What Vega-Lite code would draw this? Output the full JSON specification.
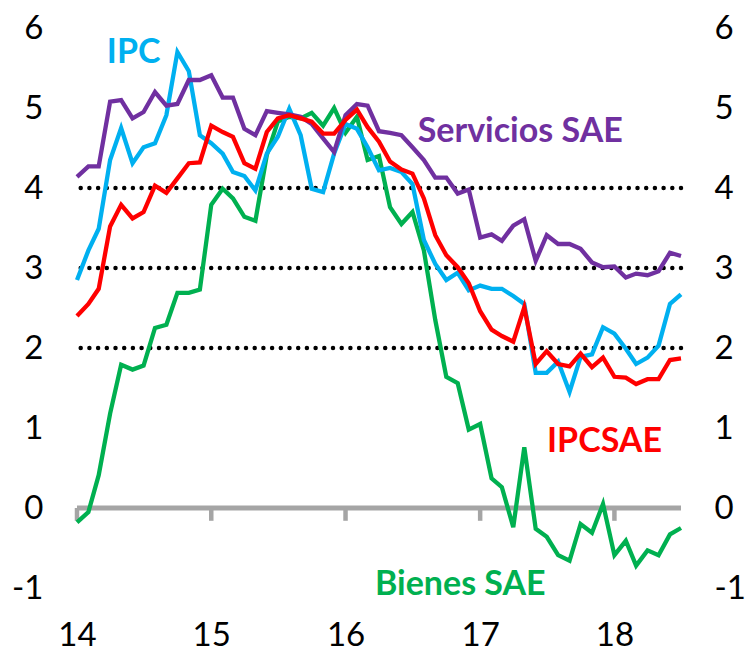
{
  "$schema": "https://vega.github.io/schema/vega-lite/v6.json",
  "width": 604,
  "height": 560,
  "autosize": "none",
  "padding": {"left": 77, "top": 28, "right": 64, "bottom": 65},
  "config": {
    "view": {"stroke": null},
    "font": "Lato",
    "axis": {"grid": false, "domain": false, "ticks": false, "title": null, "labelFont": "Lato", "labelFontSize": 33, "labelColor": "#000000"}
  },
  "datasets": {
    "series": [
      {"d": "2014-01-01", "IPC": 2.85, "IPCSAE": 2.40, "Serv": 4.14, "Bienes": -0.18},
      {"d": "2014-02-01", "IPC": 3.22, "IPCSAE": 2.55, "Serv": 4.27, "Bienes": -0.05},
      {"d": "2014-03-01", "IPC": 3.49, "IPCSAE": 2.74, "Serv": 4.27, "Bienes": 0.41},
      {"d": "2014-04-01", "IPC": 4.35, "IPCSAE": 3.52, "Serv": 5.08, "Bienes": 1.18},
      {"d": "2014-05-01", "IPC": 4.75, "IPCSAE": 3.79, "Serv": 5.10, "Bienes": 1.79},
      {"d": "2014-06-01", "IPC": 4.31, "IPCSAE": 3.62, "Serv": 4.87, "Bienes": 1.73},
      {"d": "2014-07-01", "IPC": 4.51, "IPCSAE": 3.70, "Serv": 4.95, "Bienes": 1.78},
      {"d": "2014-08-01", "IPC": 4.56, "IPCSAE": 4.03, "Serv": 5.20, "Bienes": 2.25},
      {"d": "2014-09-01", "IPC": 4.91, "IPCSAE": 3.94, "Serv": 5.03, "Bienes": 2.29},
      {"d": "2014-10-01", "IPC": 5.70, "IPCSAE": 4.12, "Serv": 5.05, "Bienes": 2.69},
      {"d": "2014-11-01", "IPC": 5.46, "IPCSAE": 4.31, "Serv": 5.35, "Bienes": 2.69},
      {"d": "2014-12-01", "IPC": 4.66, "IPCSAE": 4.32, "Serv": 5.35, "Bienes": 2.73},
      {"d": "2015-01-01", "IPC": 4.56, "IPCSAE": 4.78, "Serv": 5.41, "Bienes": 3.79},
      {"d": "2015-02-01", "IPC": 4.43, "IPCSAE": 4.70, "Serv": 5.13, "Bienes": 3.99},
      {"d": "2015-03-01", "IPC": 4.20, "IPCSAE": 4.64, "Serv": 5.13, "Bienes": 3.87},
      {"d": "2015-04-01", "IPC": 4.15, "IPCSAE": 4.31, "Serv": 4.74, "Bienes": 3.64},
      {"d": "2015-05-01", "IPC": 3.97, "IPCSAE": 4.24, "Serv": 4.66, "Bienes": 3.59},
      {"d": "2015-06-01", "IPC": 4.43, "IPCSAE": 4.70, "Serv": 4.96, "Bienes": 4.41},
      {"d": "2015-07-01", "IPC": 4.64, "IPCSAE": 4.87, "Serv": 4.94, "Bienes": 4.83},
      {"d": "2015-08-01", "IPC": 4.99, "IPCSAE": 4.91, "Serv": 4.92, "Bienes": 4.89},
      {"d": "2015-09-01", "IPC": 4.66, "IPCSAE": 4.87, "Serv": 4.89, "Bienes": 4.87},
      {"d": "2015-10-01", "IPC": 3.99, "IPCSAE": 4.83, "Serv": 4.80, "Bienes": 4.94},
      {"d": "2015-11-01", "IPC": 3.95, "IPCSAE": 4.68, "Serv": 4.62, "Bienes": 4.78},
      {"d": "2015-12-01", "IPC": 4.43, "IPCSAE": 4.68, "Serv": 4.45, "Bienes": 5.00},
      {"d": "2016-01-01", "IPC": 4.80, "IPCSAE": 4.85, "Serv": 4.91, "Bienes": 4.69},
      {"d": "2016-02-01", "IPC": 4.74, "IPCSAE": 4.98, "Serv": 5.05, "Bienes": 4.89},
      {"d": "2016-03-01", "IPC": 4.51, "IPCSAE": 4.76, "Serv": 5.03, "Bienes": 4.35},
      {"d": "2016-04-01", "IPC": 4.22, "IPCSAE": 4.58, "Serv": 4.71, "Bienes": 4.40},
      {"d": "2016-05-01", "IPC": 4.25, "IPCSAE": 4.33, "Serv": 4.69, "Bienes": 3.76},
      {"d": "2016-06-01", "IPC": 4.20, "IPCSAE": 4.23, "Serv": 4.66, "Bienes": 3.55},
      {"d": "2016-07-01", "IPC": 4.05, "IPCSAE": 4.18, "Serv": 4.51, "Bienes": 3.70},
      {"d": "2016-08-01", "IPC": 3.35, "IPCSAE": 3.87, "Serv": 4.35, "Bienes": 3.22},
      {"d": "2016-09-01", "IPC": 3.05, "IPCSAE": 3.41, "Serv": 4.13, "Bienes": 2.35},
      {"d": "2016-10-01", "IPC": 2.85, "IPCSAE": 3.16, "Serv": 4.13, "Bienes": 1.64},
      {"d": "2016-11-01", "IPC": 2.94, "IPCSAE": 3.01, "Serv": 3.93, "Bienes": 1.56},
      {"d": "2016-12-01", "IPC": 2.72, "IPCSAE": 2.81, "Serv": 3.98, "Bienes": 0.98},
      {"d": "2017-01-01", "IPC": 2.78, "IPCSAE": 2.46, "Serv": 3.38, "Bienes": 1.05},
      {"d": "2017-02-01", "IPC": 2.74, "IPCSAE": 2.23, "Serv": 3.42, "Bienes": 0.37},
      {"d": "2017-03-01", "IPC": 2.74, "IPCSAE": 2.15, "Serv": 3.34, "Bienes": 0.26},
      {"d": "2017-04-01", "IPC": 2.65, "IPCSAE": 2.08, "Serv": 3.53, "Bienes": -0.24},
      {"d": "2017-05-01", "IPC": 2.55, "IPCSAE": 2.51, "Serv": 3.61, "Bienes": 0.76},
      {"d": "2017-06-01", "IPC": 1.69, "IPCSAE": 1.80, "Serv": 3.09, "Bienes": -0.26},
      {"d": "2017-07-01", "IPC": 1.69, "IPCSAE": 1.96, "Serv": 3.41, "Bienes": -0.36},
      {"d": "2017-08-01", "IPC": 1.83, "IPCSAE": 1.80, "Serv": 3.30, "Bienes": -0.59},
      {"d": "2017-09-01", "IPC": 1.45, "IPCSAE": 1.77, "Serv": 3.30, "Bienes": -0.66},
      {"d": "2017-10-01", "IPC": 1.89, "IPCSAE": 1.93, "Serv": 3.24, "Bienes": -0.20},
      {"d": "2017-11-01", "IPC": 1.92, "IPCSAE": 1.76, "Serv": 3.07, "Bienes": -0.31},
      {"d": "2017-12-01", "IPC": 2.26, "IPCSAE": 1.88, "Serv": 3.01, "Bienes": 0.05},
      {"d": "2018-01-01", "IPC": 2.18, "IPCSAE": 1.64, "Serv": 3.02, "Bienes": -0.59},
      {"d": "2018-02-01", "IPC": 1.99, "IPCSAE": 1.63, "Serv": 2.88, "Bienes": -0.41},
      {"d": "2018-03-01", "IPC": 1.80, "IPCSAE": 1.55, "Serv": 2.93, "Bienes": -0.72},
      {"d": "2018-04-01", "IPC": 1.88, "IPCSAE": 1.61, "Serv": 2.91, "Bienes": -0.53},
      {"d": "2018-05-01", "IPC": 2.03, "IPCSAE": 1.61, "Serv": 2.96, "Bienes": -0.59},
      {"d": "2018-06-01", "IPC": 2.55, "IPCSAE": 1.85, "Serv": 3.19, "Bienes": -0.33},
      {"d": "2018-07-01", "IPC": 2.67, "IPCSAE": 1.87, "Serv": 3.15, "Bienes": -0.25}
    ],
    "grid": [{"g": 2}, {"g": 3}, {"g": 4}],
    "zero": [{"z": 0}],
    "years": [
      {"d": "2014-01-01", "z": 0, "zb": -0.16},
      {"d": "2015-01-01", "z": 0, "zb": -0.16},
      {"d": "2016-01-01", "z": 0, "zb": -0.16},
      {"d": "2017-01-01", "z": 0, "zb": -0.16},
      {"d": "2018-01-01", "z": 0, "zb": -0.16}
    ],
    "labels": [
      {"d": "2014-06-04", "v": 5.69, "t": "IPC", "c": "IPC"},
      {"d": "2017-04-20", "v": 4.70, "t": "Servicios SAE", "c": "Serv"},
      {"d": "2017-12-05", "v": 0.82, "t": "IPCSAE", "c": "IPCSAE"},
      {"d": "2016-11-08", "v": -0.96, "t": "Bienes SAE", "c": "Bienes"}
    ]
  },
  "encoding": {
    "x": {"field": "d", "type": "temporal",
      "scale": {"type": "utc", "domain": [{"year": 2014, "month": 1, "date": 1, "utc": true}, {"year": 2018, "month": 7, "date": 1, "utc": true}], "nice": false},
      "axis": {"format": "%y", "values": [{"year": 2014, "month": 1, "date": 1, "utc": true}, {"year": 2015, "month": 1, "date": 1, "utc": true}, {"year": 2016, "month": 1, "date": 1, "utc": true}, {"year": 2017, "month": 1, "date": 1, "utc": true}, {"year": 2018, "month": 1, "date": 1, "utc": true}], "labelPadding": 31, "labelFlush": false}}
  },
  "layer": [
    {
      "data": {"name": "grid"},
      "mark": {"type": "rule", "color": "#000000", "strokeWidth": 4.5, "strokeDash": [0, 8.7], "strokeCap": "round"},
      "encoding": {
        "x": null,
        "y": {"field": "g", "type": "quantitative", "scale": {"domain": [-1, 6], "nice": false, "zero": false},
          "axis": {"orient": "left", "values": [-1, 0, 1, 2, 3, 4, 5, 6], "labelPadding": 34, "labelExpr": "'' + datum.value"}}
      }
    },
    {
      "data": {"name": "zero"},
      "mark": {"type": "rule", "color": "#A5A5A5", "strokeWidth": 5},
      "encoding": {
        "x": null,
        "y": {"field": "z", "type": "quantitative", "scale": {"domain": [-1, 6], "nice": false, "zero": false},
          "axis": {"orient": "right", "values": [-1, 0, 1, 2, 3, 4, 5, 6], "labelPadding": 33, "labelExpr": "'' + datum.value"}}
      }
    },
    {
      "data": {"name": "years"},
      "mark": {"type": "rule", "color": "#A5A5A5", "strokeWidth": 4.5},
      "encoding": {
        "y": {"field": "z", "type": "quantitative", "scale": {"domain": [-1, 6], "nice": false, "zero": false}, "axis": null},
        "y2": {"field": "zb"}
      }
    },
    {
      "data": {"name": "series"},
      "transform": [{"fold": ["Bienes", "IPC", "Serv", "IPCSAE"], "as": ["s", "v"]}],
      "mark": {"type": "line", "strokeWidth": 4.3},
      "encoding": {
        "y": {"field": "v", "type": "quantitative", "scale": {"domain": [-1, 6], "nice": false, "zero": false}, "axis": null},
        "color": {"field": "s", "type": "nominal", "scale": {"domain": ["IPC", "IPCSAE", "Serv", "Bienes"], "range": ["#00B0F0", "#FF0000", "#7030A0", "#00B050"]}, "legend": null}
      }
    },
    {
      "data": {"name": "labels"},
      "mark": {"type": "text", "font": "Lato", "fontSize": 34, "fontWeight": "bold", "align": "center", "baseline": "middle"},
      "encoding": {
        "y": {"field": "v", "type": "quantitative", "scale": {"domain": [-1, 6], "nice": false, "zero": false}, "axis": null},
        "text": {"field": "t"},
        "color": {"field": "c", "type": "nominal", "scale": {"domain": ["IPC", "IPCSAE", "Serv", "Bienes"], "range": ["#00B0F0", "#FF0000", "#7030A0", "#00B050"]}, "legend": null}
      }
    }
  ],
  "resolve": {"axis": {"y": "independent"}}
}
